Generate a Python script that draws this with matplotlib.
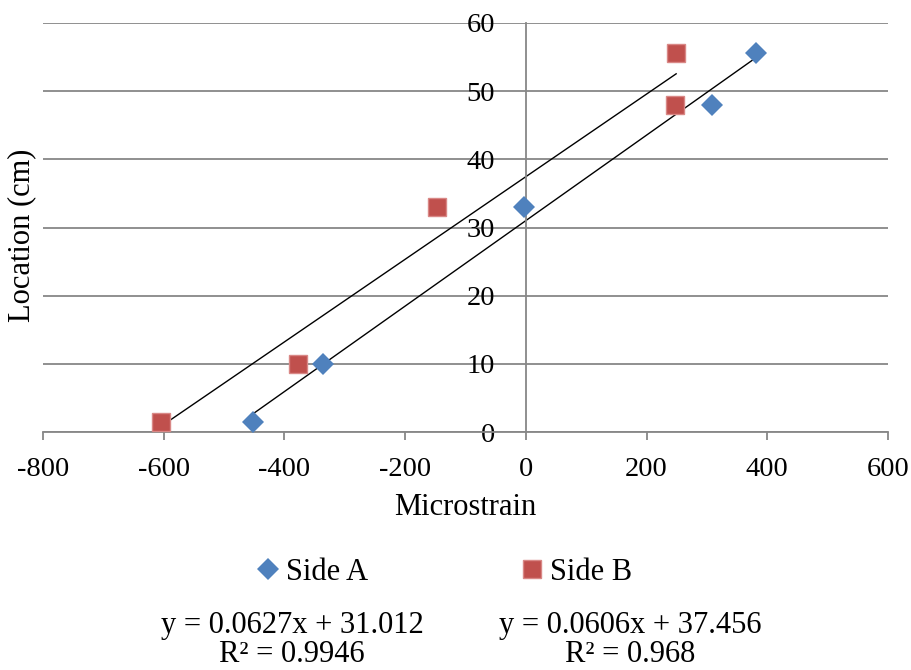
import numpy as np
import matplotlib
matplotlib.use("Agg")
import matplotlib.pyplot as plt
from matplotlib.ticker import FixedLocator

plt.rcParams['font.family'] = ['Liberation Serif', 'DejaVu Serif']
plt.rcParams['axes.unicode_minus'] = False

# Strain readings (microstrain) at each gauge location (cm)
side_a_strain = [-452, -336, -3, 308, 381]
side_b_strain = [-605, -377, -148, 247, 249]
side_a_loc = [1.5, 10, 33, 48, 55.6]
side_b_loc = [1.5, 10, 33, 48, 55.6]

# Linear trendline coefficients (slope, intercept, R²)
fit_a = (0.0627, 31.012, 0.9946)
fit_b = (0.0606, 37.456, 0.968)

x_ticks = [-800, -600, -400, -200, 0, 200, 400, 600]
y_ticks = [0, 10, 20, 30, 40, 50, 60]

blue = '#4F81BD'
red = '#C0504D'
grid_gray = '#878787'

fig = plt.figure(figsize=(9.11, 6.70), dpi=100)
ax = fig.add_axes([43 / 911, 1 - 432 / 670, (888 - 43) / 911, (432 - 23) / 670])

ax.set_xlim(-800, 600)
ax.set_ylim(0, 60)

# horizontal gridlines only
ax.yaxis.set_major_locator(FixedLocator(y_ticks))
ax.xaxis.set_major_locator(FixedLocator(x_ticks))
ax.grid(axis='y', color=grid_gray, linewidth=1.3)
ax.set_axisbelow(True)

for side in ['top', 'right']:
    ax.spines[side].set_visible(False)
ax.spines['left'].set_position(('data', 0))
ax.spines['left'].set_color(grid_gray)
ax.spines['left'].set_linewidth(1.3)
ax.spines['bottom'].set_color(grid_gray)
ax.spines['bottom'].set_linewidth(1.3)

ax.tick_params(axis='x', direction='out', length=6, width=1.3, color=grid_gray,
               labelsize=20.5, pad=12)
ax.tick_params(axis='y', length=0, labelsize=20.5, pad=22)

# trendlines from the stated equations, spanning each series' x-range
for xs, (m, b, _) in [(side_a_strain, fit_a), (side_b_strain, fit_b)]:
    xx = np.array([min(xs), max(xs)])
    ax.plot(xx, m * xx + b, color='black', linewidth=1.0, zorder=2)

ax.plot(side_a_strain, side_a_loc, linestyle='none', marker='D', markersize=11.5,
        color=blue, markeredgewidth=0, label='Side A', zorder=3)
ax.plot(side_b_strain, side_b_loc, linestyle='none', marker='s', markersize=13,
        color=red, markeredgecolor='#D98886', markeredgewidth=1.0,
        label='Side B', zorder=3)

ax.set_xlabel('Microstrain', fontsize=22, labelpad=8)
ax.set_ylabel('')
fig.text(22 / 911, 1 - 235 / 670, 'Location (cm)', rotation=90, fontsize=22,
         ha='center', va='center')

handles, labels = ax.get_legend_handles_labels()
fig.legend(handles, labels, loc='center', bbox_to_anchor=(445 / 911, 1 - 572 / 670),
           ncol=2, frameon=False, fontsize=22, handlelength=0.7,
           handletextpad=0.25, columnspacing=5.0)

fig.text(292 / 911, 1 - 640 / 670,
         'y = {:.4f}x + {:.3f}\nR² = {}'.format(fit_a[0], fit_a[1], fit_a[2]),
         ha='center', va='center', multialignment='center', fontsize=22,
         linespacing=1.0)
fig.text(630 / 911, 1 - 640 / 670,
         'y = {:.4f}x + {:.3f}\nR² = {}'.format(fit_b[0], fit_b[1], fit_b[2]),
         ha='center', va='center', multialignment='center', fontsize=22,
         linespacing=1.0)

fig.savefig('out.png', dpi=100)
